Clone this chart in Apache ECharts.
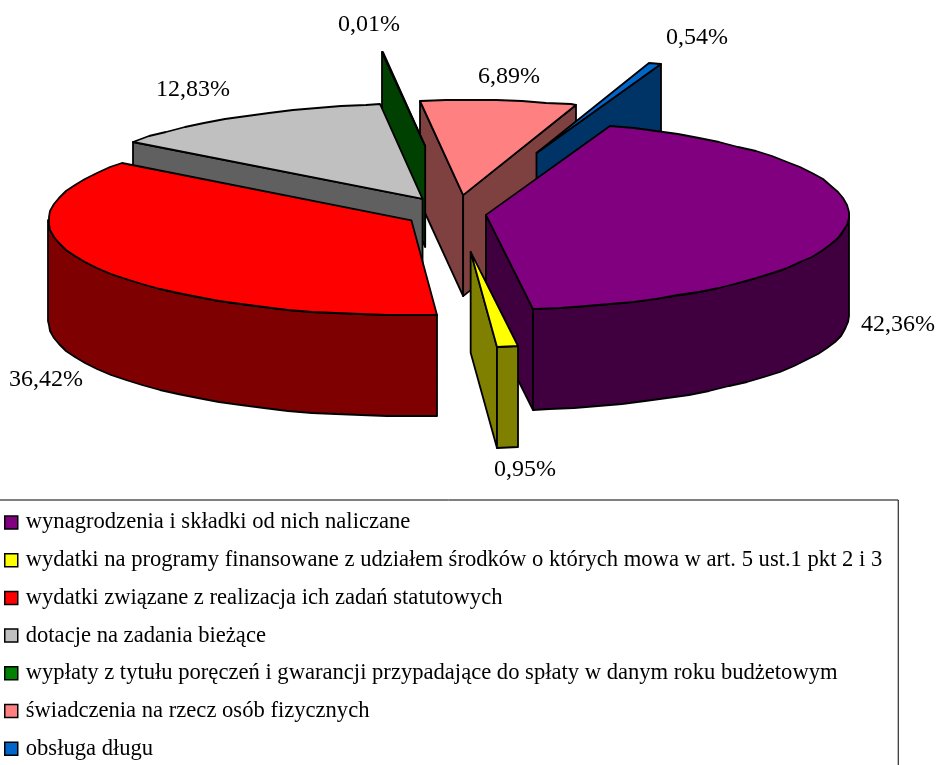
<!DOCTYPE html>
<html>
<head>
<meta charset="utf-8">
<script src="https://cdn.jsdelivr.net/npm/echarts@6/dist/echarts.min.js"></script>
<style>
  html, body { margin: 0; padding: 0; background: #fff; }
  #root { width: 938px; height: 765px; }
</style>
</head>
<body>
<div id="root"></div>
<script>
// data
const categories = [
  'wynagrodzenia i składki od nich naliczane',
  'wydatki na programy finansowane z udziałem środków o których mowa w art. 5 ust.1 pkt 2 i 3',
  'wydatki związane z realizacja ich zadań statutowych',
  'dotacje na zadania bieżące',
  'wypłaty z tytułu poręczeń i gwarancji przypadające do spłaty w danym roku budżetowym',
  'świadczenia na rzecz osób fizycznych',
  'obsługa długu'
];
const shares = [42.36, 0.95, 36.42, 12.83, 0.01, 6.89, 0.54];

// styling and layout
const colors = ['#800080', '#FFFF00', '#FF0000', '#C0C0C0', '#008000', '#FF8080', '#0066CC'];
const explode = [0.083, 0.40, 0.14, 0.185, 0.72, 0.20, 0.68];
const drawOrder = [5, 4, 3, 6, 2, 0, 1]; // back to front
const labelCenters = [[898, 325], [525, 470], [46, 380], [193, 90], [369, 25], [509, 77], [697, 38]];
const pie = { cx: 456, cy: 214, rx: 363, ry: 95, depth: 101, start: 20 };
const fontFamily = '"Liberation Serif", "Times New Roman", serif';

const toAngle = pct => echarts.number.linearMap(pct, [0, 100], [pie.start, pie.start + 360]);

const halfTone = hex => {
  const n = parseInt(hex.slice(1), 16);
  const c = [n >> 16, (n >> 8) & 255, n & 255].map(v => Math.floor(v / 2));
  return `rgb(${c.join(',')})`;
};

const rimPoint = (apex, deg) => {
  const a = deg * Math.PI / 180;
  return [Math.round(apex[0] + pie.rx * Math.sin(a)), Math.round(apex[1] - pie.ry * Math.cos(a))];
};

const arcPoints = (apex, from, to) => {
  const pts = [];
  for (let d = from; d < to; d += 4) pts.push(rimPoint(apex, d));
  pts.push(rimPoint(apex, to));
  return pts;
};

const sink = pts => pts.map(p => [p[0], p[1] + pie.depth]);

const poly = (points, fill) => ({
  type: 'polygon',
  shape: { points },
  style: { fill, stroke: '#000', lineWidth: 1.8, lineJoin: 'round' }
});

const renderSlice = i => (params, api) => {
  const a = toAngle(api.value(0));
  const b = toAngle(api.value(1));
  const mid = (a + b) / 2 * Math.PI / 180;
  const apex = [
    pie.cx + explode[i] * pie.rx * Math.sin(mid),
    pie.cy - explode[i] * pie.ry * Math.cos(mid)
  ];
  const wall = halfTone(colors[i]);
  const children = [];

  // cut faces that look towards the viewer
  const facesViewer = deg => Math.cos(deg * Math.PI / 180) < 0;
  [[a, a - 90], [b, b + 90]].forEach(([edge, normal]) => {
    if (facesViewer(normal)) {
      const rim = rimPoint(apex, edge);
      children.push(poly([apex, rim, [rim[0], rim[1] + pie.depth], [apex[0], apex[1] + pie.depth]], wall));
    }
  });

  // outer wall, front half only
  const from = Math.max(a, 90);
  const to = Math.min(b, 270);
  if (to > from) {
    const rim = arcPoints(apex, from, to);
    children.push(poly(rim.concat(sink(rim).reverse()), wall));
  }

  children.push(poly([apex].concat(arcPoints(apex, a, b)), colors[i]));

  const c = labelCenters[i];
  children.push({
    type: 'text',
    z2: 10,
    style: {
      x: c[0], y: c[1],
      text: shares[i].toFixed(2).replace('.', ',') + '%',
      fill: '#000',
      font: `24px ${fontFamily}`,
      align: 'center',
      verticalAlign: 'middle'
    }
  });
  return { type: 'group', children };
};

const bounds = [];
shares.reduce((sum, v) => { bounds.push([sum, sum + v]); return sum + v; }, 0);

const chart = echarts.init(document.getElementById('root'), null, { renderer: 'canvas' });
chart.setOption({
  animation: false,
  legend: {
    orient: 'vertical',
    left: -2,
    top: 500,
    height: 300,
    padding: [11, 16, 60, 6],
    itemWidth: 13,
    itemHeight: 13,
    itemGap: 14.7,
    selectedMode: false,
    borderColor: '#000',
    borderWidth: 1,
    itemStyle: { borderColor: '#000', borderWidth: 1.5 },
    formatter: name => `{t|${name}}`,
    textStyle: {
      rich: {
        t: { fontFamily, fontSize: 22.6, lineHeight: 21, color: '#000', padding: [0, 0, 0, 3] }
      }
    },
    data: categories.map((name, i) => ({ name, icon: 'rect', itemStyle: { color: colors[i] } }))
  },
  series: drawOrder.map(i => ({
    type: 'custom',
    name: categories[i],
    coordinateSystem: 'none',
    silent: true,
    clip: false,
    itemStyle: { color: colors[i] },
    renderItem: renderSlice(i),
    data: [bounds[i]]
  }))
});
</script>
</body>
</html>
